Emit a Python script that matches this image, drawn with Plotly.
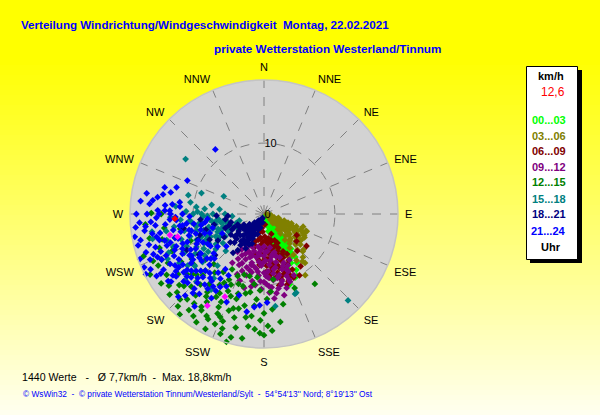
import plotly.graph_objects as go

# ---------------- data: (direction in degrees, speed in km/h) per time window
g00_03 = [(175,0.4),(160,0.6),(145,0.7),(190,0.8),(150,1.0),(165,1.1),(138,1.2),(180,1.3),(155,1.4),(200,0.9),
          (142,1.6),(152,1.8),(162,1.9),(147,2.1),(157,2.3),(140,2.4),(166,2.5),(150,2.6),(145,2.8),(160,2.9),
          (154,3.0),(141,3.2),(148,3.3),(156,3.4),(163,3.5),(144,3.7),(152,3.8),(159,3.9),(140,4.0),(147,4.1),
          (155,4.2),(162,4.3),(150,4.5),(142,4.6),(158,4.7),(145,4.9),(153,5.0),(160,5.1),(141,5.3),(149,5.4),
          (156,5.5),(144,5.7),(152,5.8),(147,6.0),(155,6.1),(142,6.2),(150,6.4),(157,6.5),(145,6.6),(146,8.3),
          (150,9.1),(154,10.0),(160,10.6),(170,4.9),(172,5.4),(151,7.9),(152,9.9),(148,7.2),(156,8.6),(144,7.5),
          (158,9.5),(143,2.2),(158,1.6),(152,2.9),(146,3.5),(160,3.7),(150,4.0),(143,4.4),(157,4.5),(148,5.1),
          (146,5.6),(153,6.3),(149,6.6)]
g03_06 = [(95,0.4),(110,0.6),(125,0.8),(100,1.0),(118,1.2),(132,1.3),(108,1.5),(122,1.7),(136,1.8),(114,1.9),
          (105,2.1),(120,2.2),(130,2.4),(112,2.6),(126,2.7),(138,2.9),(108,3.0),(117,3.1),(133,3.3),(123,3.4),
          (110,3.6),(140,3.6),(128,3.8),(115,3.9),(109,4.1),(121,4.2),(135,4.3),(114,4.5),(128,4.6),(141,4.7),
          (111,4.9),(120,5.0),(133,5.1),(117,5.3),(126,5.4),(139,5.5),(113,5.6),(122,5.8),(131,5.9),(143,6.0),
          (116,6.1),(126,6.2),(112,6.5),(120,6.6),(130,6.7),(144,7.1),(137,6.9),(125,6.4),(132,7.5),(146,10.4),
          (134,7.6),(141,8.6),(112,6.4),(140,9.0),(145,8.0),(150,7.0),(138,8.2),(115,1.4),(127,2.0),(119,2.6),
          (130,3.0),(116,3.6),(125,4.0),(131,4.5),(118,4.8),(124,5.6),(136,5.2),(118,6.4),(134,6.2),(108,5.8)]
g06_09 = [(189,2.0),(196,2.8),(175,1.5),(200,1.8),(185,2.5),(170,3.5),(198,4.1),(160,3.0),(178,3.2),(188,3.4),
          (165,3.8),(182,3.9),(192,3.7),(158,4.0),(173,4.2),(186,4.4),(168,4.6),(195,4.7),(162,4.8),(178,4.9),
          (155,4.5),(161,6.1),(157,5.2),(166,5.3),(174,5.5),(184,5.6),(192,5.8),(153,5.9),(170,6.0),(179,6.2),
          (163,6.4),(187,6.5),(156,6.7),(172,6.8),(160,7.0),(168,7.2),(177,7.3),(152,7.4),(185,7.2),(160,8.6),
          (155,7.8),(164,7.9),(172,8.0),(158,8.3),(167,8.5),(153,8.8),(163,9.0),(170,9.2),(157,9.4),(165,9.6),
          (160,10.1),(168,10.3),(155,9.9),(162,10.5),(175,9.0),(178,8.2),(123,5.5),(130,6.0),(127,7.5),(138,7.0),
          (145,9.0),(150,10.0),(166,4.0),(176,3.8),(182,4.6),(170,5.0),(160,5.6),(175,6.4),(182,6.8),(165,7.5),
          (172,7.6),(150,6.5),(156,6.2),(162,8.0),(167,9.0),(174,8.6),(158,9.0)]
g09_12 = [(170,4.8),(180,4.6),(190,4.7),(200,4.9),(208,5.2),(175,5.3),(185,5.1),(195,5.4),(165,5.6),(203,5.7),
          (212,5.9),(180,5.9),(208,6.6),(170,6.1),(190,6.2),(198,6.4),(160,6.5),(178,6.6),(186,6.8),(202,6.9),
          (166,7.0),(194,7.1),(174,7.2),(183,7.3),(210,7.3),(158,7.4),(194,7.4),(176,8.1),(168,7.7),(188,7.8),
          (198,7.9),(206,8.0),(162,8.2),(180,8.3),(192,8.4),(171,8.5),(201,8.6),(185,8.7),(157,8.8),(166,8.9),
          (176,9.0),(196,9.0),(169,10.7),(160,9.3),(172,9.4),(183,9.5),(190,9.6),(165,9.8),(178,9.9),(187,10.1),
          (159,10.2),(174,10.4),(182,10.6),(163,10.9),(176,11.1),(171,11.3),(155,8.0),(154,9.6),(215,6.5),
          (213,8.2),(200,10.0),(195,10.8),(173,12.0),(166,11.8),(151,7.4),(159,9.9),(204,9.3),(186,5.8),
          (172,6.6),(199,5.9),(168,5.8),(178,5.4),(188,5.6),(196,6.1),(205,6.2),(164,6.2),(182,7.0),(190,7.6),
          (170,7.9),(160,7.8),(186,8.2),(178,8.8),(194,8.2),(204,7.6),(168,9.2),(180,9.6),(176,10.2),(166,10.2),
          (190,10.4),(158,8.4)]
g12_15 = [(270.5,15.9),(270,14.5),(250.7,18.0),(246,15.8),(196.4,18.8),(200,18.0),(180,17.1),(184.6,16.3),
          (171.4,15.4),(209.4,16.5),(214.7,17.5),(224.5,16.9),(229.5,17.5),(196.2,10.6),(193,9.0),(185,12.1),
          (209.3,12.8),(172,9.3),(157.5,11.3),(144,12.2),(188,10.0),(190,11.2),(198,11.8),(202,12.5),(205,11.0),
          (210,13.5),(212,11.8),(215,14.2),(218,12.6),(220,15.0),(222,13.4),(225,14.5),(228,12.8),(230,15.6),
          (232,13.8),(235,14.8),(238,16.2),(240,13.5),(243,15.2),(245,12.5),(248,14.0),(252,15.5),(255,13.0),
          (258,16.5),(262,14.2),(200,14.5),(195,13.8),(190,14.8),(205,15.5),(208,10.5),(203,9.5),(198,9.0),
          (215,10.0),(218,16.0),(226,11.5),(186,13.0),(178,12.0),(175,13.5),(182,15.0),(194,16.5),(212,18.0),
          (220,18.5),(236,17.5),(242,18.2),(247,17.0),(265,16.8),(260,12.0),(250,11.0),(232,10.5),(238,12.0),
          (225,10.0),(210,9.0),(214,15.8),(204,17.0),(190,17.8),(176,16.5),(168,13.0),(186,9.0),(200,10.5),
          (205,12.0),(210,11.2),(215,12.8),(220,10.8),(225,12.2),(230,13.2),(198,12.6),(193,11.5),(206,13.8),
          (213,14.8),(222,16.2),(228,15.2),(234,12.2),(196,15.2),(201,16.2),(188,16.0),(207,18.2),(180,14.0),
          (175,11.0),(183,10.8),(198,14.0),(203,15.8),(208,16.8),(213,16.2),(218,17.2),(223,17.8),(228,16.5),
          (200,17.2),(195,18.0),(206,14.6),(216,13.6),(192,13.2),(187,14.5),(182,16.8),(178,15.8),(233,16.8),
          (238,14.2),(244,16.6),(250,13.6),(256,14.8)]
g15_18 = [(252,4.1),(248,4.8),(256,5.2),(244,5.6),(260,5.9),(240,6.3),(264,6.5),(250,6.4),(234.7,7.1),(258,7.0),
          (264,7.7),(245,7.5),(270,7.2),(238,8.0),(253,8.2),(267.8,8.6),(261,8.8),(246,9.0),(230,9.2),(259.7,9.7),
          (272,9.4),(240,9.8),(253,10.9),(238.8,10.6),(247.4,11.8),(265,10.5),(232,11.0),(258,11.5),(244,12.5),
          (228,12.0),(262,12.8),(250,13.5),(236,13.0),(268,13.2),(255,14.2),(261,16.0),(257.4,16.1),(276,9.6),
          (288.5,9.3),(293.8,6.2),(305,13.5),(280,7.5),(284,11.0),(275,12.5),(226,7.5),(222,9.8),(218,11.5),
          (173,13.1),(158.8,12.1),(157.7,12.0),(135.8,17.0),(266,4.5),(255,3.6),(242,4.2),(270,5.5),(276,6.3),
          (262,9.2),(249,10.2),(235,10.2),(225,13.5),(215,13.0),(230,14.5),(245,15.0),(252,6.8),(243,7.0),
          (257,8.0),(248,8.6),(266,11.8),(240,11.2),(250,5.0),(258,5.5),(262,6.8),(254,7.5),(247,8.2),(242,8.8),
          (236,9.5),(250,9.4),(256,9.8),(263,10.2),(270,10.0),(244,10.6),(233,12.2),(253,12.2),(260,14.0),
          (248,14.5),(240,13.8),(268,8.0),(275,8.4),(272,11.0),(279,10.5),(246,5.4),(253,6.0),(259,6.2),
          (241,7.4),(249,7.0),(234,8.4),(262,7.4),(255,8.8),(270,8.8),(244,9.4)]
g18_21 = [(200,0.6),(210,1.0),(220,1.2),(205,1.6),(215,2.0),(228,1.8),(200,2.3),(210,2.6),(222,2.8),(235,2.5),
          (198,3.0),(209,3.1),(218,3.4),(230,3.5),(242,3.2),(205,3.8),(214,4.0),(224,4.2),(236,4.3),(248,4.0),
          (202,4.5),(211,4.7),(220,5.0),(232,5.2),(244,5.0),(256,4.8),(208,5.5),(226,5.8),(250,5.8),(262,5.5),
          (267,5.1),(268,6.7),(248.7,10.0),(240,7.5),(255,8.5),(230,9.0),(260,11.5),(245,12.0),(252,9.5),
          (238,10.8),(258,7.2),(265,9.0),(216,6.3),(212,2.2),(225,3.0),(195,2.0),(190,1.2),(240,6.5),(233,4.7),
          (217,5.5),(244.7,8.5),(218.5,7.0),(205,0.8),(215,1.4),(225,2.2),(232,3.0),(240,3.8),(228,4.5),
          (212,3.5),(222,3.8),(246,4.6),(252,5.2),(238,5.5),(213,5.0),(204,3.2),(219,2.5),(230,6.2),(208,2.0),
          (220,1.8),(214,3.0),(226,3.4),(236,3.6),(244,4.0),(210,4.2),(218,4.6),(228,5.2),(206,4.8)]
g21_24 = [(323,11.4),(293.6,11.8),(287,12.9),(279,15.2),(281,14.5),(277,15.8),(275,11.9),(272,13.3),(266.6,13.3),
          (268,10.5),(270,16.5),(264,14.0),(259.7,14.9),(262,12.0),(257,10.5),(255,13.0),(253,16.0),(250,11.5),
          (249.8,13.2),(247,15.0),(245,9.5),(243,18.7),(241,12.0),(240,14.5),(238,10.5),(237.3,11.9),(235,16.5),
          (234.6,15.2),(232,13.0),(230,9.8),(228,14.5),(226,11.5),(224,16.0),(222.6,11.3),(222,15.0),(220,13.0),
          (218,10.5),(216.9,16.3),(215,12.5),(212,14.0),(207.5,11.5),(210,10.0),(182.7,12.9),(250.7,8.1),
          (229.4,7.0),(255,7.5),(260,9.0),(265,8.0),(245,6.5),(235,8.0),(248.2,17.3),(244,17.8),(240,16.8),
          (252,17.5),(256,18.3),(246,18.5),(262,17.0),(258,15.5),(266,16.0),(272,15.0),(275,14.0),(268,12.5),
          (262,10.0),(254,11.0),(247,12.5),(243,10.8),(238,13.5),(233,11.0),(228,12.0),(224,13.5),(219,14.5),
          (214,11.0),(245,14.0),(250,15.5),(255,14.5),(260,13.0),(236,15.5),(231,14.0),(226,16.8),(242,9.0),
          (252,8.8),(258,12.0),(263,11.0),(270,11.5),(278,12.0),(283,13.5),(285,14.5),(276,17.5),(270,18.0),
          (248,10.0),(239,8.8),(232,9.0),(227,10.5),(220,11.8),(212,12.8),(203,13.5),(197,12.0),(190,14.0),
          (186,13.2),(178,12.5),(215,9.5),(253,13.8),(244,11.5),(237,14.8),(232,10.2),(236,11.0),(240,11.8),
          (244,12.8),(248,13.6),(252,14.4),(256,15.2),(260,16.0),(264,16.8),(230,12.5),(234,13.4),(238,14.2),
          (242,15.0),(246,15.8),(250,16.6),(254,10.0),(258,10.8),(262,11.6),(266,12.4),(270,13.2),(226,13.0),
          (230,14.8),(234,16.2),(240,17.5),(250,18.6),(258,17.8),(264,18.2),(268,15.2),(272,14.0),(276,13.0),
          (246,10.4),(250,12.2),(254,12.6),(242,13.6),(236,12.4),(224,12.4),(218,12.0),(228,9.4),(256,9.2),
          (262,8.4),(255,16.8),(248,16.2),(241,16.2),(234,14.0),(229,13.6),(223,14.4),(217,13.2),(211,12.0),
          (264,15.4),(270,14.8),(275,16.2),(280,16.8),(266,17.6),(260,18.5)]
extra_magenta = [(257.4,13.6),(255.3,12.6),(211.7,15.2),(205.3,12.9)]
current_value = [(267,12.6)]

groups = [("00...03", g00_03, "#00ff00"), ("03...06", g03_06, "#808000"), ("06...09", g06_09, "#800000"),
          ("09...12", g09_12, "#800080"), ("12...15", g12_15, "#008000"), ("15...18", g15_18, "#008080"),
          ("18...21", g18_21, "#000080"), ("21...24", g21_24, "#0000ff")]

compass_vals = [i * 22.5 for i in range(16)]
compass_text = ["N", "NNE", "NE", "ENE", "E", "ESE", "SE", "SSE", "S", "SSW", "SW", "WSW", "W", "WNW", "NW", "NNW"]
radial_ticks = [0, 10]

title1 = "Verteilung Windrichtung/Windgeschwindigkeit\u00a0\u00a0Montag, 22.02.2021"
title2 = "private Wetterstation Westerland/Tinnum"
stats = "1440 Werte\u00a0\u00a0\u00a0-\u00a0\u00a0\u00a0\u00d8 7,7km/h\u00a0\u00a0-\u00a0\u00a0Max. 18,8km/h"
credit = ("\u00a9 WsWin32\u00a0\u00a0-\u00a0\u00a0\u00a9 private Wetterstation Tinnum/Westerland/Sylt\u00a0\u00a0-\u00a0\u00a0"
          "54\u00b054'13'' Nord; 8\u00b019'13'' Ost")
current_label = "12,6"

W, H = 600, 415
def px(x): return x / W
def py(y): return 1 - y / H

fig = go.Figure()
def add(pts, color, name, size=5.2):
    fig.add_trace(go.Scatterpolar(theta=[p[0] for p in pts], r=[p[1] for p in pts], mode="markers",
                                  name=name, marker=dict(symbol="diamond", size=size, color=color,
                                                         line=dict(width=0))))
for name, pts, col in groups:
    add(pts, col, name)
add(extra_magenta, "#ff00ff", "m")
add(current_value, "#ff0000", "aktuell")

# background gradient
shapes = []
n = 83
for i in range(n):
    y0 = i * H / n
    y1 = (i + 1) * H / n
    t = max(0.0, (y0 - 55) / (H - 55))
    b = int(round(242 * t))
    shapes.append(dict(type="rect", xref="paper", yref="paper", x0=0, x1=1, y0=py(y1 + 0.5), y1=py(y0),
                       fillcolor=f"rgb(255,255,{b})", line=dict(width=0), layer="below"))
# legend box with shadow
shapes.append(dict(type="rect", xref="paper", yref="paper", x0=px(530), x1=px(582), y0=py(263), y1=py(70),
                   fillcolor="black", line=dict(width=0)))
shapes.append(dict(type="rect", xref="paper", yref="paper", x0=px(526.5), x1=px(577.5), y0=py(259.5), y1=py(66.5),
                   fillcolor="white", line=dict(color="black", width=1)))

ann = []
def text(x, y, s, size, color, bold=False, anchor="left", family="Liberation Sans"):
    ann.append(dict(x=px(x), y=py(y), xref="paper", yref="paper", text=f"<b>{s}</b>" if bold else s,
                    showarrow=False, xanchor=anchor, yanchor="middle",
                    font=dict(family=family, size=size, color=color)))
text(19, 25, title1, 11.6, "#0000ff", bold=True)
text(212, 49, title2, 11.7, "#0000ff", bold=True)
text(20, 377, stats, 10.6, "black")
text(21, 394, credit, 8.3, "#0000ff")
text(551, 76, "km/h", 11, "black", bold=True, anchor="center")
text(567, 92, current_label, 12, "#ff0000", anchor="right")
ys = [120, 135.5, 151, 167, 182.5, 198.5, 214.5, 231]
for (name, pts, col), yy in zip(groups, ys):
    text(548.5, yy, name, 11, col, bold=True, anchor="center")
text(551, 247, "Uhr", 11, "black", bold=True, anchor="center")

fig.update_layout(
    width=W, height=H, margin=dict(l=0, r=0, t=0, b=0), showlegend=False,
    paper_bgcolor="#ffff00", shapes=shapes, annotations=ann,
    font=dict(family="Liberation Sans", size=11, color="black"),
    polar=dict(
        domain=dict(x=[px(130), px(398)], y=[py(348), py(80)]),
        bgcolor="#d3d3d3",
        angularaxis=dict(rotation=90, direction="clockwise", tickmode="array", tickvals=compass_vals,
                         ticktext=compass_text, showgrid=True, gridcolor="#808080", griddash="dash",
                         gridwidth=1, showline=True, linecolor="#c4c4c4", linewidth=1.5,
                         ticks="outside", ticklen=4, tickcolor="rgba(0,0,0,0)",
                         tickfont=dict(family="Liberation Sans", size=11, color="black")),
        radialaxis=dict(range=[0, 18.9], tickmode="array", tickvals=radial_ticks, angle=90, side="clockwise",
                        showgrid=True, gridcolor="#808080", griddash="dash", gridwidth=1,
                        showline=False, ticks="", tickangle=90, layer="above traces",
                        tickfont=dict(family="Liberation Sans", size=11, color="black")),
    ),
)
fig.write_html("out.html", post_script="document.body.style.margin='0';",
               config={"displayModeBar": False})
